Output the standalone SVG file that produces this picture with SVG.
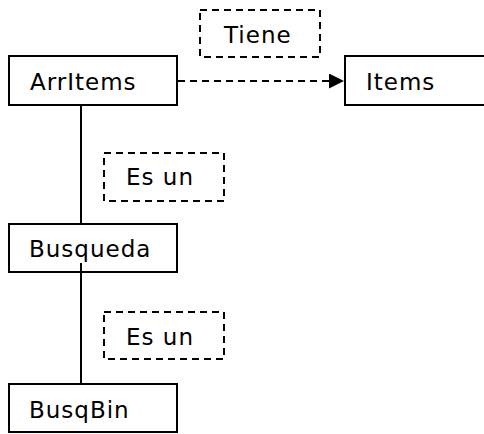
<svg xmlns="http://www.w3.org/2000/svg" width="484" height="434" viewBox="0 0 484 434">
<style>
.box{fill:#fff;stroke:#000;stroke-width:2}
.lbl{fill:none;stroke:#000;stroke-width:2;stroke-dasharray:7,5}
.t{font-family:"DejaVu Sans",Verdana,sans-serif;font-size:23px;letter-spacing:1px;fill:#000}
.c{stroke:#000;stroke-width:2;fill:none}
</style>
<defs>
<marker id="ah" markerWidth="16" markerHeight="16" refX="15" refY="7.5" markerUnits="userSpaceOnUse" orient="auto">
<path d="M0,0 L15,7.5 L0,15 Z" fill="#000"/>
</marker>
</defs>
<rect width="484" height="434" fill="#fff"/>
<g id="connectors">
<line class="c" x1="81" y1="105" x2="81" y2="224"/>
<line class="c" x1="178" y1="81" x2="344" y2="81" stroke-dasharray="7,5" marker-end="url(#ah)"/>
</g>
<g id="lbl-tiene"><rect class="lbl" x="200" y="10" width="120" height="47"/><text class="t" x="224" y="43">Tiene</text></g>
<g id="lbl-esun1"><rect class="lbl" x="104" y="153" width="120" height="48"/><text class="t" x="126" y="185">Es un</text></g>
<g id="lbl-esun2"><rect class="lbl" x="104" y="312" width="120" height="47"/><text class="t" x="126" y="345">Es un</text></g>
<g id="ArrItems"><rect class="box" x="9" y="56" width="168" height="49"/><text class="t" x="30" y="90">ArrItems</text></g>
<g id="Items"><rect class="box" x="345" y="56" width="168" height="49"/><text class="t" x="366" y="90">Items</text></g>
<g id="Busqueda"><rect class="box" x="9" y="224" width="168" height="48"/><text class="t" x="29" y="257">Busqueda</text></g>
<g id="BusqBin"><rect class="box" x="9" y="384" width="168" height="48"/><text class="t" x="29" y="418">BusqBin</text></g>
<g id="connectors-top"><line class="c" x1="81" y1="263" x2="81" y2="384"/></g>
</svg>
